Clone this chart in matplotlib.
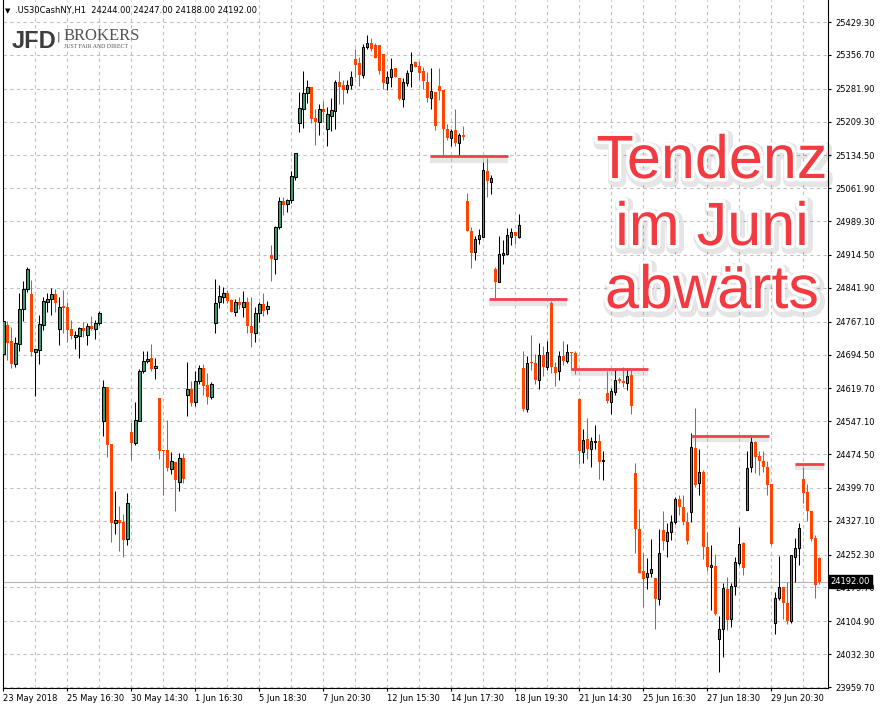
import matplotlib
matplotlib.use("Agg")
import matplotlib.pyplot as plt
import matplotlib.patheffects as pe
import numpy as np

# .US30CashNY H1 candles (bar 0 = 23 May 2018)
opens = [24696, 24760, 24724, 24674, 24718, 24795, 24839, 24828, 24700, 24704,
         24760, 24811, 24817, 24828, 24751, 24802, 24800, 24751, 24733, 24735,
         24753, 24738, 24757, 24751, 24764, 24548, 24623, 24497, 24322, 24329,
         24324, 24287, 24523, 24499, 24548, 24658, 24680, 24687, 24665, 24598,
         24483, 24483, 24441, 24457, 24413, 24466, 24605, 24618, 24590, 24636,
         24665, 24627, 24601, 24764, 24811, 24822, 24830, 24815, 24789, 24811,
         24800, 24811, 24757, 24742, 24786, 24806, 24795, 24914, 24906, 24976,
         25034, 25027, 25036, 25087, 25206, 25237, 25272, 25286, 25217, 25208,
         25237, 25193, 25222, 25233, 25297, 25290, 25281, 25290, 25348, 25339,
         25312, 25374, 25383, 25379, 25379, 25359, 25295, 25308, 25328, 25306,
         25259, 25295, 25321, 25341, 25332, 25321, 25297, 25261, 25275, 25288,
         25279, 25193, 25173, 25191, 25162, 25180, 25034, 24967, 24921, 24950,
         24954, 25100, 25076, 24883, 24855, 24914, 24917, 24954, 24965, 24954,
         24665, 24574, 24678, 24676, 24638, 24693, 24667, 24808, 24667, 24658,
         24691, 24680, 24700, 24698, 24596, 24479, 24508, 24486, 24501, 24503,
         24459, 24609, 24590, 24612, 24640, 24636, 24632, 24649, 24433, 24309,
         24216, 24203, 24212, 24201, 24154, 24307, 24282, 24302, 24324, 24375,
         24357, 24324, 24346, 24488, 24411, 24435, 24269, 24225, 24227, 24066,
         24088, 24176, 24110, 24183, 24234, 24278, 24351, 24446, 24501, 24470,
         24459, 24446, 24408, 24101, 24156, 24181, 24145, 24106, 24247, 24267,
         24419, 24391, 24349, 24289, 24244]
highs = [24800, 24769, 24755, 24733, 24830, 24857, 24888, 24859, 24707, 24782,
         24822, 24830, 24841, 24839, 24822, 24837, 24811, 24771, 24746, 24755,
         24766, 24764, 24780, 24771, 24791, 24638, 24623, 24497, 24393, 24360,
         24342, 24388, 24545, 24590, 24662, 24702, 24702, 24718, 24687, 24598,
         24483, 24550, 24479, 24457, 24477, 24477, 24678, 24636, 24658, 24671,
         24674, 24654, 24634, 24861, 24848, 24844, 24837, 24817, 24817, 24822,
         24835, 24822, 24822, 24800, 24811, 24830, 24813, 24936, 24978, 25043,
         25043, 25038, 25100, 25140, 25275, 25321, 25301, 25286, 25237, 25248,
         25255, 25241, 25261, 25301, 25321, 25301, 25301, 25321, 25370, 25352,
         25381, 25401, 25394, 25383, 25379, 25359, 25321, 25350, 25328, 25306,
         25306, 25323, 25363, 25343, 25343, 25330, 25319, 25328, 25275, 25328,
         25279, 25204, 25193, 25237, 25184, 25200, 25051, 24976, 24956, 24972,
         25120, 25129, 25091, 24888, 24956, 24948, 24974, 24974, 24965, 25005,
         24702, 24691, 24738, 24696, 24720, 24713, 24724, 24813, 24678, 24702,
         24724, 24718, 24700, 24702, 24598, 24530, 24554, 24512, 24539, 24519,
         24481, 24658, 24620, 24665, 24645, 24667, 24665, 24662, 24455, 24353,
         24256, 24245, 24287, 24201, 24309, 24349, 24322, 24340, 24380, 24384,
         24384, 24346, 24521, 24576, 24486, 24439, 24302, 24274, 24254, 24117,
         24190, 24203, 24190, 24247, 24313, 24280, 24481, 24512, 24503, 24481,
         24481, 24459, 24408, 24170, 24249, 24181, 24192, 24251, 24289, 24322,
         24446, 24408, 24349, 24296, 24247]
lows = [24682, 24682, 24665, 24667, 24702, 24769, 24833, 24691, 24603, 24674,
        24749, 24789, 24782, 24789, 24715, 24742, 24722, 24729, 24707, 24687,
        24733, 24715, 24749, 24729, 24760, 24514, 24468, 24280, 24298, 24260,
        24247, 24274, 24461, 24495, 24548, 24654, 24676, 24658, 24640, 24464,
        24384, 24437, 24430, 24349, 24393, 24411, 24559, 24581, 24581, 24629,
        24605, 24585, 24596, 24742, 24797, 24808, 24808, 24789, 24780, 24795,
        24777, 24742, 24711, 24722, 24766, 24780, 24784, 24857, 24872, 24972,
        25003, 25009, 25029, 25080, 25186, 25195, 25250, 25206, 25158, 25180,
        25208, 25155, 25188, 25193, 25248, 25248, 25272, 25281, 25308, 25288,
        25306, 25370, 25365, 25350, 25315, 25281, 25279, 25286, 25308, 25257,
        25241, 25288, 25286, 25330, 25301, 25281, 25253, 25237, 25191, 25257,
        25133, 25169, 25155, 25155, 25133, 25169, 24967, 24886, 24903, 24939,
        24954, 25043, 25049, 24819, 24855, 24895, 24914, 24936, 24939, 24952,
        24570, 24567, 24660, 24629, 24618, 24647, 24660, 24654, 24625, 24638,
        24671, 24676, 24660, 24651, 24453, 24455, 24464, 24446, 24486, 24419,
        24417, 24587, 24563, 24605, 24632, 24623, 24616, 24563, 24256, 24212,
        24136, 24176, 24203, 24088, 24141, 24262, 24247, 24285, 24320, 24340,
        24318, 24276, 24324, 24402, 24384, 24243, 24216, 24130, 24119, 23993,
        24026, 24086, 24092, 24163, 24229, 24207, 24351, 24435, 24433, 24428,
        24435, 24384, 24274, 24077, 24152, 24110, 24099, 24101, 24192, 24229,
        24366, 24327, 24282, 24156, 24188]
closes = [24769, 24720, 24674, 24720, 24795, 24839, 24883, 24700, 24707, 24762,
          24813, 24817, 24828, 24808, 24800, 24797, 24749, 24735, 24738, 24753,
          24746, 24757, 24751, 24764, 24786, 24623, 24495, 24322, 24329, 24322,
          24285, 24366, 24499, 24550, 24658, 24680, 24685, 24662, 24669, 24481,
          24481, 24444, 24459, 24417, 24466, 24419, 24618, 24587, 24636, 24665,
          24625, 24601, 24629, 24808, 24824, 24830, 24813, 24789, 24811, 24804,
          24811, 24757, 24742, 24786, 24806, 24791, 24802, 24906, 24976, 25034,
          25025, 25036, 25089, 25140, 25239, 25272, 25286, 25215, 25208, 25237,
          25230, 25226, 25235, 25297, 25286, 25279, 25290, 25308, 25334, 25312,
          25374, 25383, 25370, 25350, 25321, 25295, 25308, 25325, 25308, 25259,
          25297, 25317, 25337, 25330, 25317, 25299, 25261, 25277, 25199, 25277,
          25193, 25173, 25188, 25162, 25180, 25175, 24967, 24919, 24950, 24959,
          25102, 25078, 25085, 24855, 24917, 24919, 24959, 24965, 24956, 24981,
          24574, 24676, 24676, 24638, 24693, 24667, 24700, 24667, 24654, 24691,
          24680, 24700, 24698, 24662, 24481, 24506, 24486, 24503, 24503, 24457,
          24461, 24592, 24614, 24638, 24636, 24632, 24647, 24581, 24309, 24212,
          24198, 24212, 24220, 24154, 24256, 24282, 24302, 24324, 24375, 24357,
          24324, 24282, 24490, 24406, 24435, 24269, 24225, 24229, 24121, 24088,
          24178, 24108, 24183, 24236, 24276, 24223, 24444, 24501, 24468, 24459,
          24446, 24406, 24276, 24156, 24181, 24145, 24106, 24251, 24267, 24311,
          24388, 24349, 24287, 24185, 24192]

price_ticks = [25429.30, 25356.70, 25281.90, 25209.30, 25134.50, 25061.90, 24989.30,
               24914.50, 24841.90, 24767.10, 24694.50, 24619.70, 24547.10, 24474.50,
               24399.70, 24327.10, 24252.30, 24179.70, 24104.90, 24032.30, 23959.70]
date_labels = ["23 May 2018", "25 May 16:30", "30 May 14:30", "1 Jun 16:30",
               "5 Jun 18:30", "7 Jun 20:30", "12 Jun 15:30", "14 Jun 17:30",
               "18 Jun 19:30", "21 Jun 14:30", "25 Jun 16:30", "27 Jun 18:30",
               "29 Jun 20:30"]
last_price = 24192.00
header = ".US30CashNY,H1  24244.00 24247.00 24188.00 24192.00"

# drawn resistance lines: start bar, end bar, price
line_start = [106.7, 121.4, 141.9, 171.9, 197.9]
line_end = [126.2, 140.9, 161.2, 191.4, 205.2]
line_price = [25133, 24817, 24662, 24515, 24453]

UP = "#3f9b6f"
DOWN = "#ff4500"
GRID = "#c0c0c0"

o = np.array(opens, float)
h = np.array(highs, float)
l = np.array(lows, float)
c = np.array(closes, float)
n = len(o)
idx = np.arange(n)
up = c >= o

fig = plt.figure(figsize=(8.8, 7.08), dpi=100)
ax = fig.add_axes([2.5 / 880, 20 / 708, 825.5 / 880, 688 / 708])
ax.set_xlim(-0.2, 206.2)
ax.set_ylim(23957.5, 25478)

# grid
for v in price_ticks:
    ax.axhline(v, color=GRID, lw=0.8, ls=(0, (3, 3)), zorder=0)
for k in range(8, n + 1, 8):
    ax.axvline(k, color=GRID, lw=0.8, ls=(0, (3, 3)), zorder=0)

# bid line
ax.axhline(last_price, color="#b4b4b4", lw=0.8, zorder=1)

# wicks
ax.vlines(idx[up], l[up], h[up], colors="black", lw=0.75, zorder=2)
ax.vlines(idx[~up], l[~up], h[~up], colors=DOWN, lw=0.75, zorder=2)

# bodies
body = np.maximum(np.abs(c - o), 2.2)
bottom = np.minimum(o, c)
ax.bar(idx[up], body[up], bottom=bottom[up], width=0.62, color=UP,
       edgecolor="black", linewidth=0.75, zorder=3)
ax.bar(idx[~up], body[~up], bottom=bottom[~up], width=0.78, color=DOWN,
       linewidth=0, zorder=3)

# resistance lines with soft shadow
for s, e, p in zip(line_start, line_end, line_price):
    ax.plot([s, e], [p, p], color="#f0424c", lw=2.0, solid_capstyle="butt", zorder=4,
            path_effects=[pe.SimpleLineShadow(offset=(0, -2.5), shadow_color="#909090",
                                              alpha=0.22, linewidth=4.5),
                          pe.Normal()])

# axes styling
for side in ["left", "bottom", "right"]:
    ax.spines[side].set_color("black")
    ax.spines[side].set_linewidth(0.8)
ax.spines["top"].set_visible(False)

ax.yaxis.tick_right()
ax.set_yticks(price_ticks)
ax.set_yticklabels([f"{v:.2f}" for v in price_ticks])
ax.tick_params(axis="y", direction="out", length=2.5, width=0.8, pad=3,
               labelsize=6, colors="black")
ax.set_xticks(range(0, 16 * len(date_labels), 16))
ax.set_xticklabels(date_labels)
ax.tick_params(axis="x", direction="out", length=2.5, width=0.8, pad=1.5,
               labelsize=6, colors="black")
for lbl in ax.get_xticklabels():
    lbl.set_ha("left")
for lbl in ax.get_xticklabels() + ax.get_yticklabels():
    lbl.set_family("DejaVu Sans")

# current price box
ax.annotate(f"{last_price:.2f}", xy=(1, last_price), xycoords=("axes fraction", "data"),
            xytext=(2, 0), textcoords="offset points", va="center", ha="left",
            fontsize=6, color="white", family="DejaVu Sans", annotation_clip=False,
            bbox=dict(boxstyle="square,pad=0.25", fc="black", ec="black"), zorder=10)

# header
fig.text(5 / 880, 1 - 11 / 708, "\u25bc", fontsize=5, color="black", va="center")
fig.text(15 / 880, 1 - 11 / 708, header, fontsize=6.0, color="black",
         family="DejaVu Sans", va="center")

# logo
fig.text(12 / 880, 1 - 48 / 708, "JFD", fontsize=17, fontweight="bold",
         family="Liberation Sans", color="#3d3d3d", va="baseline")
fig.text(57 / 880, 1 - 39 / 708, "|", fontsize=8, color="#3d3d3d", va="baseline",
         family="DejaVu Sans")
fig.text(64 / 880, 1 - 39.5 / 708, "BROKERS", fontsize=12, family="Liberation Serif",
         color="#555555", va="baseline")
fig.text(64 / 880, 1 - 47.5 / 708, "JUST FAIR AND DIRECT", fontsize=4.2,
         family="Liberation Serif", color="#555555", va="baseline")

# big annotation
effects = [pe.Stroke(linewidth=9, foreground="#000000", alpha=0.10, offset=(1.5, -2)),
           pe.Stroke(linewidth=5, foreground="white"),
           pe.Normal()]
for txt, base in zip(["Tendenz", "im Juni", "abwärts"], [178, 245, 308]):
    fig.text(712 / 880, 1 - base / 708, txt, fontsize=44, family="Liberation Sans",
             color="#f23a40", ha="center", va="baseline", path_effects=effects)

fig.savefig("out.png", dpi=100)
